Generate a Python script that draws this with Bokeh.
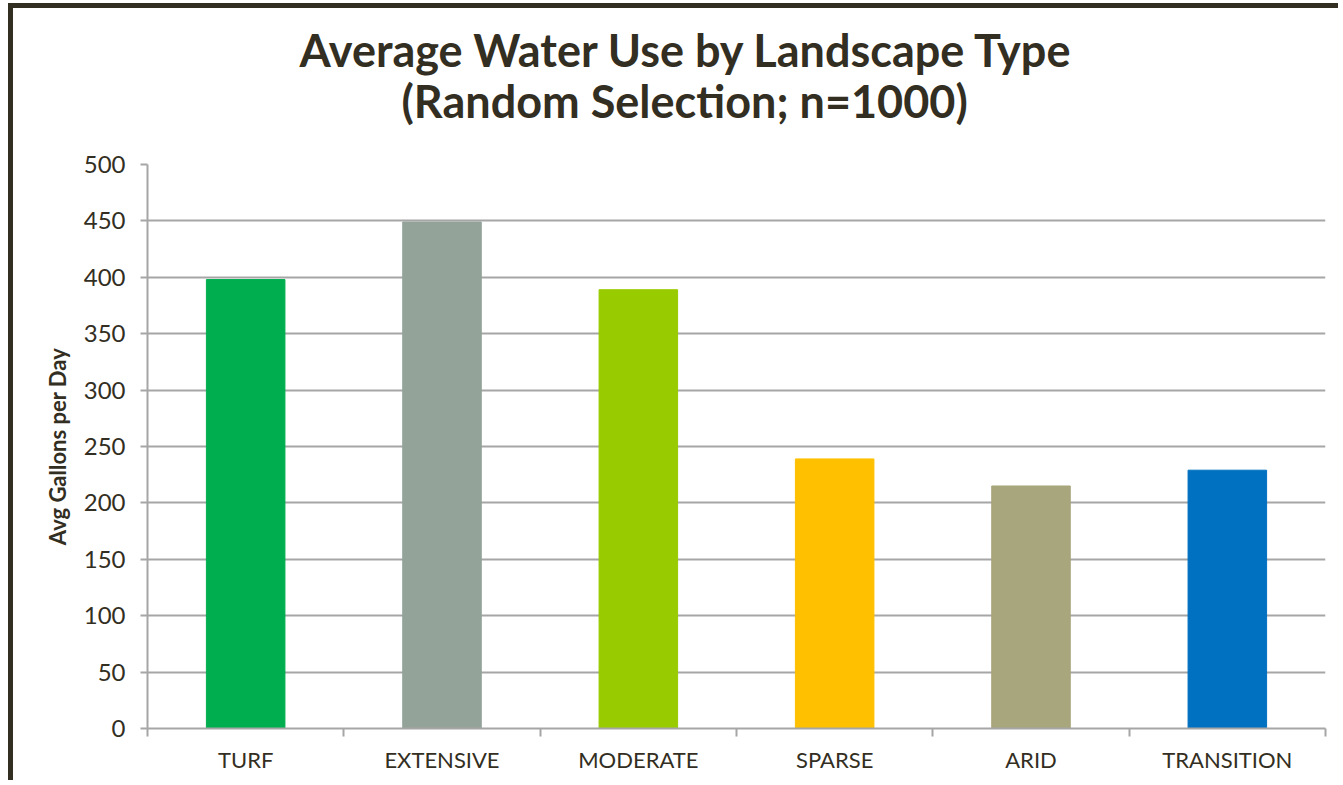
from bokeh.plotting import figure
from bokeh.models import ColumnDataSource, FixedTicker, Range1d, Title
from bokeh.embed import file_html
from bokeh.resources import INLINE

categories = ["TURF", "EXTENSIVE", "MODERATE", "SPARSE", "ARID", "TRANSITION"]
values = [398, 449, 389, 239, 215, 229]
colors = ["#00AE4F", "#94A39A", "#99CC00", "#FFC000", "#A8A67C", "#0070C0"]
y_ticks = list(range(0, 501, 50))
title_lines = ["Average Water Use by Landscape Type", "(Random Selection; n=1000)"]

FONT = "Lato"
DARK = "#332e22"
GRID = "#a6a6a6"
W, H = 1330, 777
ML, MB = 134, 57

idx = list(range(len(categories)))
src = ColumnDataSource(dict(x=idx, top=values, color=colors, cat=categories))

p = figure(width=W, height=H,
           x_range=Range1d(-0.5, len(categories) - 0.5),
           y_range=Range1d(0, 500),
           output_backend="svg", toolbar_location=None,
           min_border_left=ML, min_border_right=18,
           min_border_top=156, min_border_bottom=MB)
p.title = None
p.styles = {"border-left": "5px solid " + DARK, "border-top": "5px solid " + DARK,
            "margin-left": "8px", "margin-top": "3px"}

p.vbar(x="x", top="top", bottom=0, width=0.4, color="color", source=src)

# second line nearest the frame, first line above it
for line, off, stand in [(title_lines[1], 254, 74), (title_lines[0], 152, -84)]:
    p.add_layout(Title(text=line, align="left", offset=off, standoff=stand,
                       text_font=FONT, text_font_size="45px", text_font_style="bold",
                       text_color=DARK), "above")

p.outline_line_color = None
p.xgrid.grid_line_color = None
p.ygrid.ticker = FixedTicker(ticks=y_ticks)
p.ygrid.grid_line_color = GRID
p.ygrid.grid_line_width = 2

xa = p.xaxis[0]
xa.ticker = FixedTicker(ticks=idx, minor_ticks=[i - 0.5 for i in range(len(categories) + 1)])
xa.major_label_overrides = {i: c for i, c in zip(idx, categories)}
xa.major_tick_line_color = None
xa.minor_tick_line_color = GRID
xa.minor_tick_line_width = 2
xa.minor_tick_out = 8
xa.minor_tick_in = 0
xa.axis_line_color = GRID
xa.axis_line_width = 2
xa.major_label_text_font = FONT
xa.major_label_text_font_size = "22px"
xa.major_label_text_color = DARK
xa.major_label_standoff = 9

ya = p.yaxis[0]
ya.ticker = FixedTicker(ticks=y_ticks)
ya.minor_tick_line_color = None
ya.major_tick_line_color = GRID
ya.major_tick_line_width = 2
ya.major_tick_out = 7
ya.major_tick_in = 0
ya.axis_line_color = GRID
ya.axis_line_width = 2
ya.major_label_text_font = FONT
ya.major_label_text_font_size = "24px"
ya.major_label_text_color = DARK
ya.major_label_standoff = 15
ya.axis_label = "Avg Gallons per Day"
ya.axis_label_text_font = FONT
ya.axis_label_text_font_size = "22px"
ya.axis_label_text_font_style = "bold"
ya.axis_label_text_color = DARK
ya.axis_label_standoff = 10

open("out.html", "w").write(file_html(p, INLINE))
